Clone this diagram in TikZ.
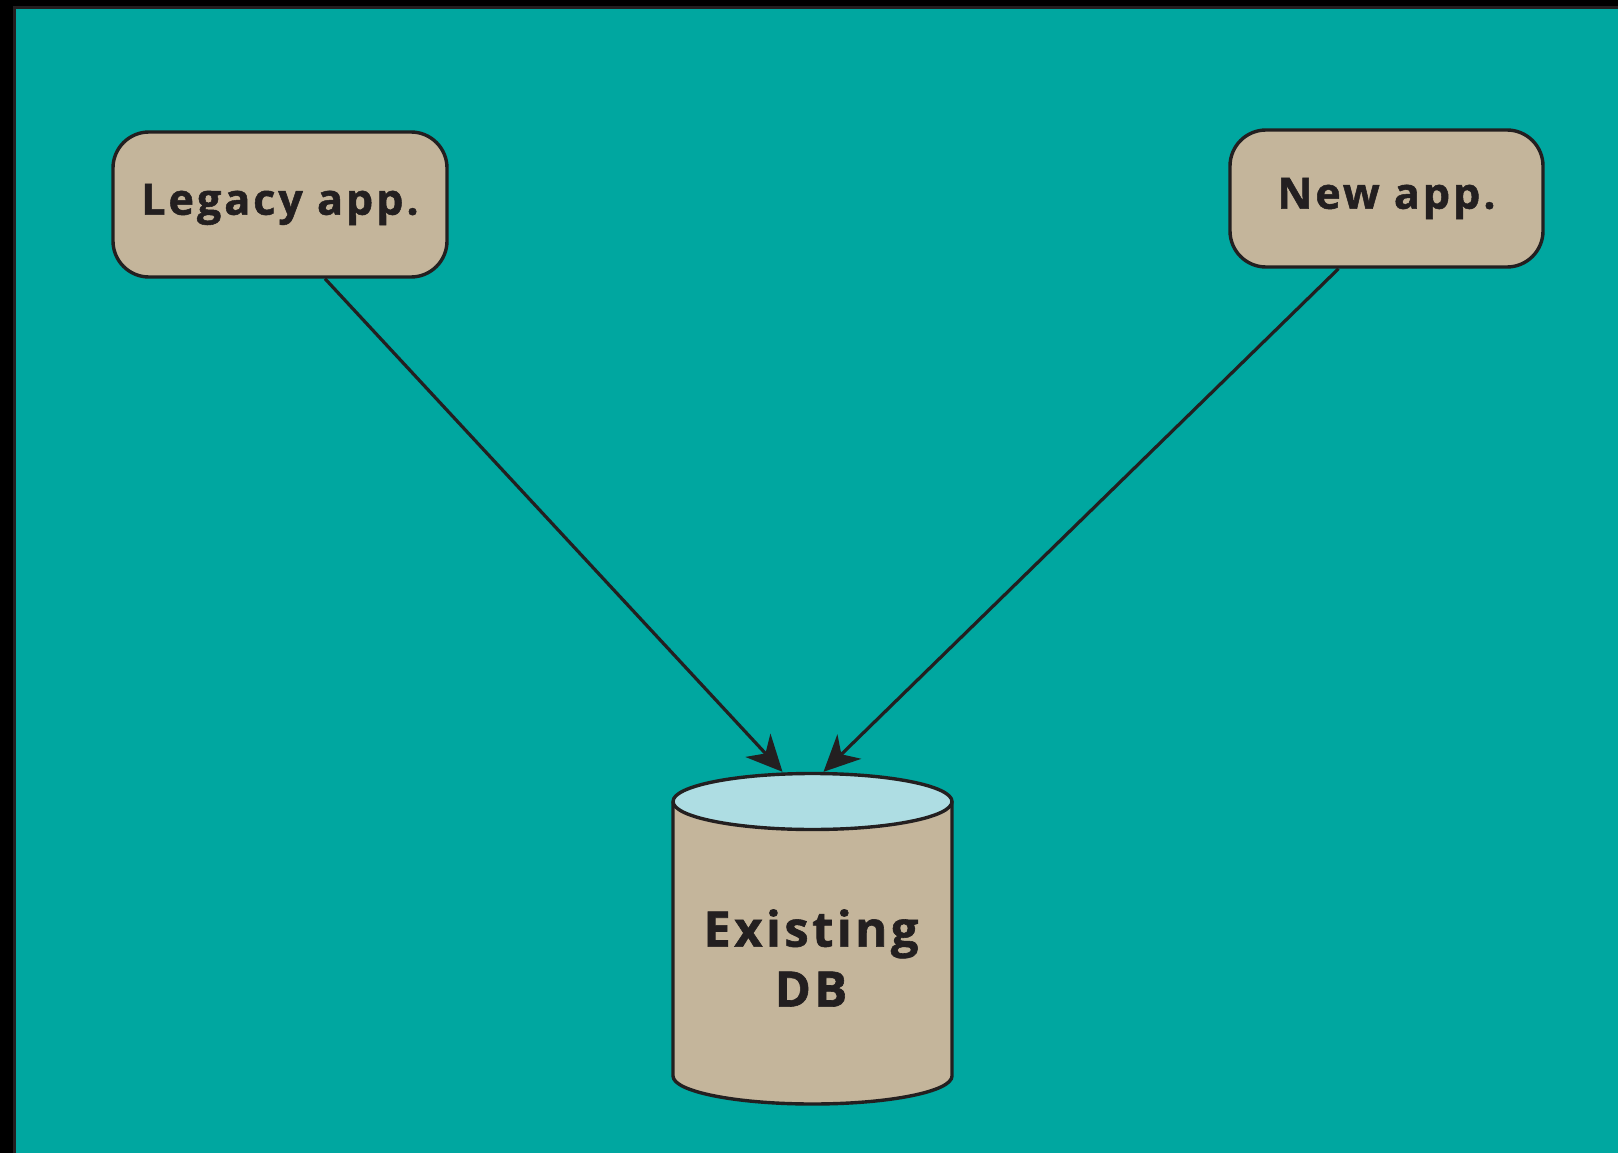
\documentclass[tikz,border=0pt]{standalone}
\usepackage{fontspec}
\setmainfont{Open Sans}[LetterSpace=7, BoldFeatures={FakeBold=1.2}]
\usetikzlibrary{arrows.meta,shapes.geometric}
\definecolor{teal1}{RGB}{0,167,160}
\definecolor{tan1}{RGB}{196,181,155}
\definecolor{lblue}{RGB}{174,221,227}
\definecolor{ink}{RGB}{35,31,32}
\tikzset{
  appbox/.style={draw=ink, line width=3.4pt, fill=tan1, rounded corners=36pt,
    font=\fontsize{43}{50}\selectfont\bfseries, text=ink, inner sep=0pt},
  link/.style={draw=ink, line width=3.2pt, -{Stealth[length=36pt,width=34pt,inset=11pt]}},
  dbline/.style={draw=ink, line width=3.4pt}
}
\begin{document}
\begin{tikzpicture}[x=1pt,y=1pt]
\useasboundingbox (0,0) rectangle (1618,-1153);
\fill[black] (0,0) rectangle (1618,-1153);
\fill[ink] (13,-6) rectangle (1618,-1153);
\fill[teal1] (16,-9) rectangle (1618,-1153);

\node[appbox, minimum width=334pt, minimum height=145pt] (legacy) at (280,-204.5) {Legacy app.};
\node[appbox, minimum width=313pt, minimum height=137pt] (newapp) at (1386.5,-198.5) {New app.};

% cylinder body
\filldraw[dbline, fill=tan1] (673,-801.5) -- (673,-1076) arc[start angle=180, end angle=360, x radius=139.5, y radius=28] -- (952,-801.5);
\node[ellipse, dbline, fill=lblue, minimum width=279pt, minimum height=56pt, inner sep=0pt] (dbtop) at (812.5,-801.5) {};
\node[font=\fontsize{49}{60}\selectfont\bfseries, text=ink, align=center] (db) at (811,-958) {Existing\\DB};

\draw[link] ([xshift=45pt]legacy.south) -- ([xshift=-30pt]dbtop.north);
\draw[link] ([xshift=-48pt]newapp.south) -- ([xshift=11pt]dbtop.north);
\end{tikzpicture}
\end{document}
